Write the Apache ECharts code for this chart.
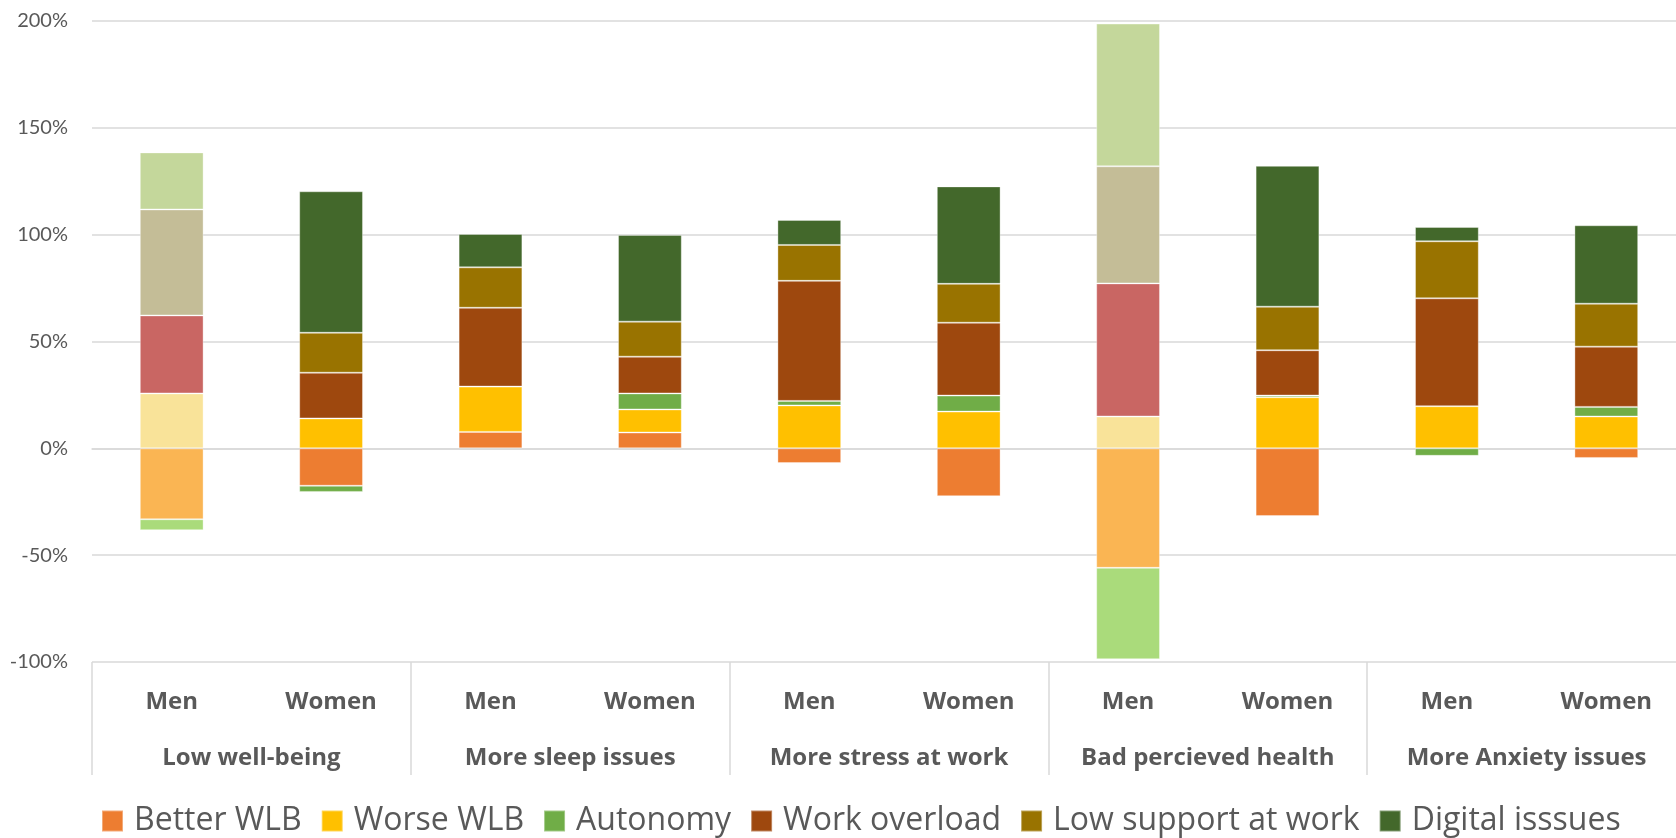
<!DOCTYPE html>
<html>
<head>
<meta charset="utf-8">
<script src="https://cdn.jsdelivr.net/npm/echarts@6/dist/echarts.min.js"></script>
<style>
  html, body { margin: 0; padding: 0; background: #ffffff; }
  #chart { width: 1676px; height: 838px; }
</style>
</head>
<body>
<div id="chart"></div>
<script>
// Sub-categories (one bar each) and the outcome groups they belong to
const genders = ['Men', 'Women', 'Men', 'Women', 'Men', 'Women', 'Men', 'Women', 'Men', 'Women'];
const outcomes = ['Low well-being', 'More sleep issues', 'More stress at work', 'Bad percieved health', 'More Anxiety issues'];

// Contributions (%) per bar, in bar order above
const betterWLB    = [-33.2, -17.5,  7.7,  7.4, -6.9, -22.4, -55.9, -31.7,  0.0, -4.5];
const worseWLB     = [ 25.7,  14.0, 21.2, 10.8, 20.1,  17.2,  14.9,  23.9, 19.7, 14.9];
const autonomy     = [ -5.1,  -2.9,  0.0,  7.5,  2.1,   7.5, -42.8,   0.8, -3.5,  4.5];
const workOverload = [ 36.5,  21.4, 36.9, 17.2, 56.2,  34.1,  62.3,  21.2, 50.5, 28.2];
const lowSupport   = [ 49.6,  18.7, 18.9, 16.4, 16.8,  18.2,  54.8,  20.4, 26.7, 20.1];
const digital      = [ 26.7,  66.2, 15.6, 40.6, 11.7,  45.6,  66.8,  65.9,  6.7, 36.7];

const seriesNames = ['Better WLB', 'Worse WLB', 'Autonomy', 'Work overload', 'Low support at work', 'Digital isssues'];
const seriesValues = [betterWLB, worseWLB, autonomy, workOverload, lowSupport, digital];

// Palette, plus a pale variant used for the highlighted bars
const mainColors = ['#ED7D31', '#FFC000', '#70AD47', '#9E480E', '#997300', '#43682B'];
const paleColors = ['#FAB553', '#F9E399', '#AADB7B', '#C96663', '#C4BD97', '#C4D79B'];
const paleBars = [0, 6];

const textColor = '#595959';
const lineColor = '#d9d9d9';
const font = '"Open Sans", Lato, "Liberation Sans", sans-serif';

const series = seriesNames.map((name, s) => ({
  name: name,
  type: 'bar',
  stack: 'total',
  barCategoryGap: '60%',
  itemStyle: { color: mainColors[s], borderColor: 'rgba(255,255,255,0.35)', borderWidth: 1 },
  emphasis: { disabled: true },
  data: seriesValues[s].map((v, i) => paleBars.includes(i)
    ? { value: v, itemStyle: { color: paleColors[s] } }
    : v)
}));

const chart = echarts.init(document.getElementById('chart'), null, { renderer: 'canvas' });
chart.setOption({
  animation: false,
  backgroundColor: '#ffffff',
  // the plot runs a little past the right edge of the canvas
  grid: { left: 92, width: 1594, top: 21, height: 641, containLabel: false, outerBoundsMode: 'none' },
  legend: {
    data: seriesNames,
    left: 96,
    top: 800,
    icon: 'rect',
    itemWidth: 21,
    itemHeight: 21,
    itemGap: 19,
    textStyle: { color: textColor, fontSize: 32, fontFamily: font, padding: [0, 0, 0, 6] }
  },
  xAxis: [
    {
      type: 'category',
      data: genders,
      position: 'bottom',
      axisLine: { show: true, lineStyle: { color: lineColor, width: 1.5 } },
      axisTick: { show: false },
      axisLabel: {
        interval: 0, margin: 28, color: textColor,
        fontSize: 24, fontWeight: 'bold', fontFamily: font
      },
      splitLine: { show: false }
    },
    {
      type: 'category',
      data: outcomes,
      position: 'bottom',
      axisLine: { show: false },
      axisTick: { show: true, interval: 0, length: 113, lineStyle: { color: lineColor, width: 1.5 } },
      axisLabel: {
        interval: 0, margin: 84, color: textColor,
        fontSize: 24, fontWeight: 'bold', fontFamily: font
      },
      splitLine: { show: false }
    }
  ],
  yAxis: {
    type: 'value',
    min: -100,
    max: 200,
    interval: 50,
    axisLine: { show: false },
    axisTick: { show: false },
    axisLabel: { formatter: '{value}%', color: textColor, fontSize: 20, fontFamily: 'Lato, sans-serif', margin: 24 },
    splitLine: { lineStyle: { color: lineColor, width: 1.5 } }
  },
  series: series
});
</script>
</body>
</html>
